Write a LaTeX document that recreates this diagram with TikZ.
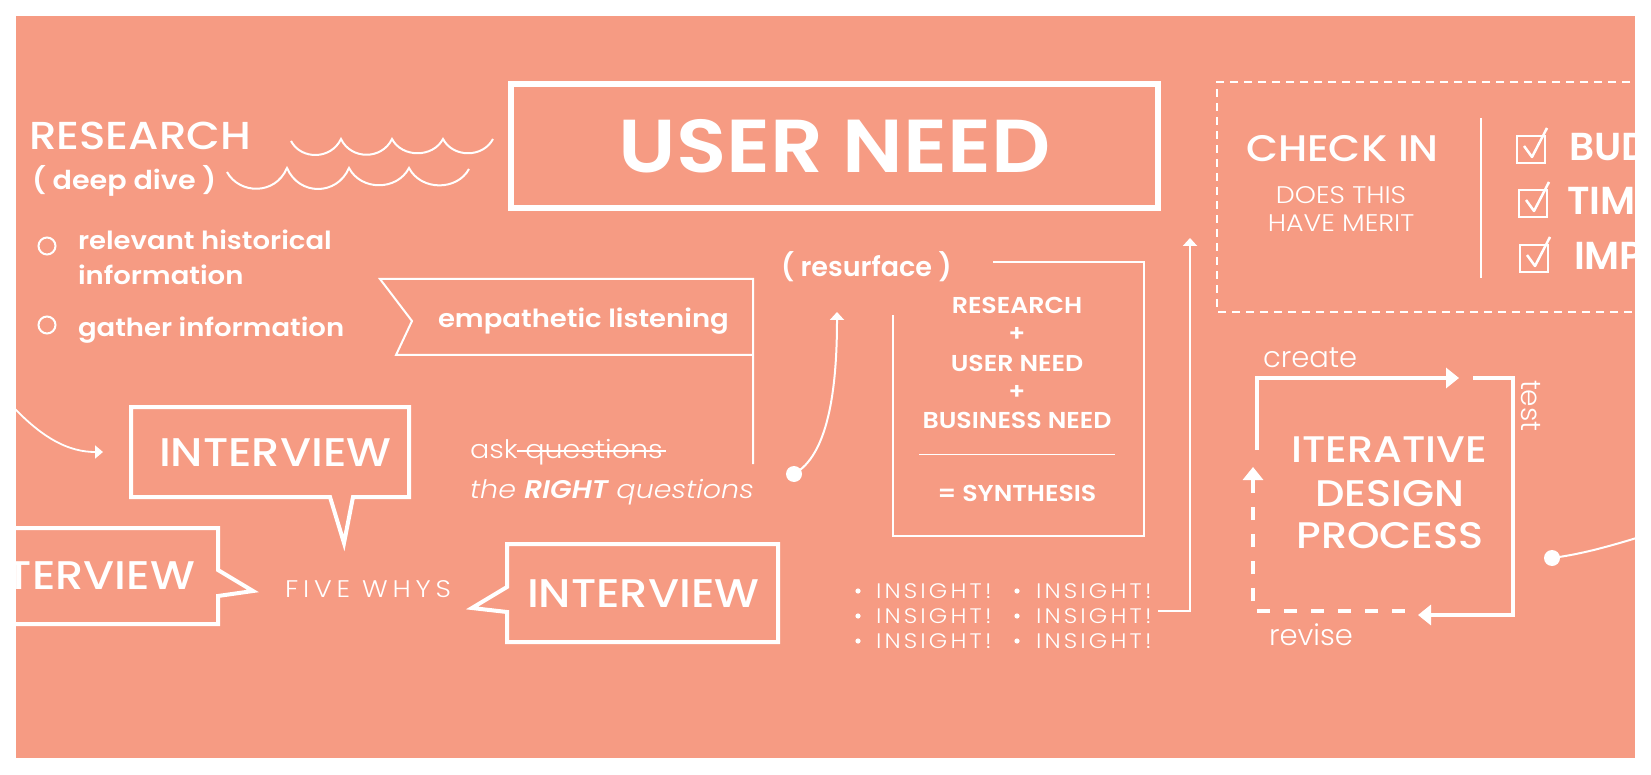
\documentclass[tikz,border=0pt]{standalone}
\usepackage{fontspec}
\setmainfont{Poppins}
\newfontfamily\popL[FakeStretch=1.12]{Poppins Light}
\newfontfamily\popLo{Poppins Light}
\newfontfamily\popM[FakeStretch=1.12]{Poppins Medium}
\newfontfamily\popS[FakeStretch=1.10]{Poppins SemiBold}
\newfontfamily\popSo{Poppins SemiBold}
\usetikzlibrary{arrows.meta}
\definecolor{salmon}{RGB}{246,155,131}
\newcommand\sz[1]{\fontsize{#1}{#1}\selectfont}
\begin{document}
\begin{tikzpicture}[x=1pt,y=-1pt,line join=miter,
  every node/.style={inner sep=0pt,outer sep=0pt,text=white},
  wl/.style={draw=white,line width=2pt},
  bubble/.style={draw=white,line width=4pt},
  iter/.style={draw=white,line width=3.5pt},
  smalltip/.style={-{Triangle[length=8pt,width=14pt]}},
  bigtip/.style={-{Triangle[length=13pt,width=20pt]}},
  chk/.style={draw=white,line width=2.5pt},
  insight/.style={anchor=base west,font={\popL\sz{21}\addfontfeatures{LetterSpace=15}}},
  synth/.style={anchor=base,font={\popS\sz{23}}}]
\useasboundingbox (0,0) rectangle (1651,775);
\fill[white] (0,0) rectangle (1651,775);
\fill[salmon] (16,16) rectangle (1635,758);
\begin{scope}
\clip (16,16) rectangle (1635,758);

% ---------- research ----------
\node[anchor=base west,font={\popM\sz{39}}] (research) at (29,150) {RESEARCH};
\node[anchor=base west,font={\popS\sz{26}}] (deep) at (32,190) {( deep dive )};
\draw[wl] (291,141) .. controls (301,160) and (331,160) .. (341,139)
  .. controls (351,160) and (382,160) .. (392,139)
  .. controls (402,158) and (433,158) .. (443,139)
  .. controls (453,158) and (483,158) .. (493,139);
\draw[wl] (227,172) .. controls (239,194) and (275,196) .. (287,168)
  .. controls (299,196) and (337,196) .. (349,168)
  .. controls (361,191) and (397,191) .. (409,168)
  .. controls (421,191) and (457,191) .. (469,169);
\coordinate (c1) at (47,246);
\coordinate (c2) at (47,325);
\draw[wl] (c1) circle[radius=8.5pt];
\draw[wl] (c2) circle[radius=8.5pt];
\node[anchor=base west,font={\popS\sz{25}}] (rel) at (78,250) {relevant historical};
\node[anchor=base west,font={\popS\sz{25}}] (info) at (78,285) {information};
\node[anchor=base west,font={\popS\sz{25}}] (gather) at (78,337) {gather information};

% ---------- user need ----------
\node[draw=white,line width=6pt,minimum width=647pt,minimum height=124pt,
  font={\popS\sz{75}}] (userneed) at (834.5,146) {USER NEED};

% ---------- empathetic listening banner ----------
\coordinate (bTL) at (380,279);
\coordinate (bTR) at (753,279);
\coordinate (bN) at (412,321);
\coordinate (bBL) at (396,355);
\coordinate (bBR) at (753,355);
\coordinate (bEnd) at (753,464);
\draw[wl] (bEnd) -- (bTR) -- (bTL) -- (bN) -- (bBL) -- (bBR);
\node[anchor=base west,font={\popS\sz{25}}] (emp) at (438,327) {empathetic listening};

% ---------- left arrow into interview ----------
\coordinate (la) at (0,392);
\coordinate (lb) at (103,452);
\draw[wl,line width=1.8pt,-{Triangle[length=8pt,width=13pt]}] (la) .. controls (40,440) and (70,452) .. (lb);

% ---------- interview bubbles ----------
\draw[bubble] (131,407) -- (409,407) -- (409,497) -- (353,497) -- (344,543) -- (330,497) -- (131,497) -- cycle;
\node[anchor=base west,font={\popM\sz{40}}] (int1) at (159,466) {INTERVIEW};
\draw[bubble] (0,528) -- (218,528) -- (218,570) -- (253,591) -- (218,596) -- (218,624) -- (0,624);
\node[anchor=base east,font={\popM\sz{40}}] (int2) at (195,589) {INTERVIEW};
\draw[bubble] (507,544) -- (778,544) -- (778,642) -- (507,642) -- (507,612) -- (472,608) -- (507,587) -- cycle;
\node[anchor=base west,font={\popM\sz{40}}] (int3) at (527,607) {INTERVIEW};
\node[anchor=base west,font={\popL\sz{24}\addfontfeatures{LetterSpace=20}}] (five) at (285,597) {FIVE WHYS};

% ---------- ask questions ----------
\node[anchor=base west,font={\popL\sz{25.5}}] (ask) at (470,458) {ask questions};
\coordinate (s1a) at (517,451);
\coordinate (s1b) at (666,451);
\draw[white,line width=1.5pt] (s1a) -- (s1b);
\node[anchor=base west,font={\popL\itshape\sz{25.5}}] (rightq) at (470,498) {the {\popS\itshape RIGHT} questions};

% ---------- resurface ----------
\coordinate (dot1) at (794,474);
\fill[white] (dot1) circle[radius=8pt];
\coordinate (rtip) at (837,312);
\draw[wl,smalltip] (dot1) .. controls (828,455) and (837,390) .. (rtip);
\node[anchor=base west,font={\popSo\sz{27}}] (resurf) at (781,277) {( resurface )};
\draw[wl] (993,262) -- (1144,262) -- (1144,536) -- (893,536) -- (893,315);
\node[synth] (sy1) at (1017,314) {RESEARCH};
\node[font={\popS\sz{23}}] (pl1) at (1017,334) {+};
\node[synth] (sy2) at (1017,371) {USER NEED};
\node[font={\popS\sz{23}}] (pl2) at (1017,392) {+};
\node[synth] (sy3) at (1017,428) {BUSINESS NEED};
\coordinate (ln1) at (919,454);
\coordinate (ln2) at (1115,454);
\draw[white,line width=1pt] (ln1) -- (ln2);
\node[synth] (sy4) at (1017,501) {= SYNTHESIS};

% ---------- insights ----------
\foreach \yy/\nm in {598/a,623/b,648/c}{
  \fill[white] (858,\yy-7) circle[radius=2.6pt];
  \fill[white] (1017,\yy-7) circle[radius=2.6pt];
  \node[insight] (ins1\nm) at (876,\yy) {INSIGHT!};
  \node[insight] (ins2\nm) at (1036,\yy) {INSIGHT!};
}
\coordinate (ia) at (1158,611);
\coordinate (ib) at (1190,611);
\coordinate (ic) at (1190,238);
\draw[wl,smalltip] (ia) -- (ib) -- (ic);

% ---------- check in ----------
\draw[white,line width=2pt,dash pattern=on 8pt off 6pt] (1700,82) -- (1217,82) -- (1217,312) -- (1700,312);
\node[anchor=base west,font={\popM\sz{37}}] (check) at (1246,162) {CHECK IN};
\node[anchor=base,font={\popL\sz{24}}] (does) at (1341,204) {DOES THIS};
\node[anchor=base,font={\popL\sz{24}}] (have) at (1341,232) {HAVE MERIT};
\coordinate (sepa) at (1481,118);
\coordinate (sepb) at (1481,278);
\draw[wl] (sepa) -- (sepb);
\foreach \dx/\dy [count=\i] in {0/0,2/54,3/109}{
  \draw[chk] (1517+\dx,136+\dy) rectangle (1545+\dx,163+\dy);
  \draw[chk,line join=round] (1524+\dx,146+\dy) -- (1532+\dx,157+\dy) -- (1547+\dx,128+\dy);
}
\node[anchor=base west,font={\popSo\sz{39}}] (bud) at (1569,161) {BUDGET};
\node[anchor=base west,font={\popSo\sz{39}}] (tim) at (1567,215) {TIMELINE};
\node[anchor=base west,font={\popSo\sz{39}}] (imp) at (1574,270) {IMPACT};

% ---------- iterative design process ----------
\node[anchor=base,font={\popM\sz{37}}] (it1) at (1389,462) {ITERATIVE};
\node[anchor=base,font={\popM\sz{37}}] (it2) at (1390,506) {DESIGN};
\node[anchor=base,font={\popM\sz{37}}] (it3) at (1390,548) {PROCESS};
\coordinate (cr0) at (1257,450);
\coordinate (cr1) at (1257,378);
\coordinate (cr2) at (1459,378);
\draw[iter,bigtip] (cr0) -- (cr1) -- (cr2);
\coordinate (te0) at (1473,378);
\coordinate (te1) at (1513,378);
\coordinate (te2) at (1513,615);
\coordinate (te3) at (1418,615);
\draw[iter,bigtip] (te0) -- (te1) -- (te2) -- (te3);
\coordinate (re0) at (1405,611);
\coordinate (re1) at (1253,611);
\coordinate (re2) at (1253,467);
\draw[iter,dash pattern=on 13pt off 14pt,bigtip] (re0) -- (re1) -- (re2);
\node[anchor=base west,font={\popLo\sz{29}}] (create) at (1263,367) {create};
\node[anchor=base west,font={\popLo\sz{29}}] (revise) at (1269,645) {revise};
\node[anchor=base west,rotate=-90,font={\popLo\sz{28}}] (test) at (1521,380) {test};
\coordinate (dot2) at (1552,558);
\fill[white] (dot2) circle[radius=8pt];
\coordinate (dend) at (1700,518);
\draw[wl] (dot2) .. controls (1590,553) and (1625,542) .. (dend);
\end{scope}
\end{tikzpicture}
\end{document}
